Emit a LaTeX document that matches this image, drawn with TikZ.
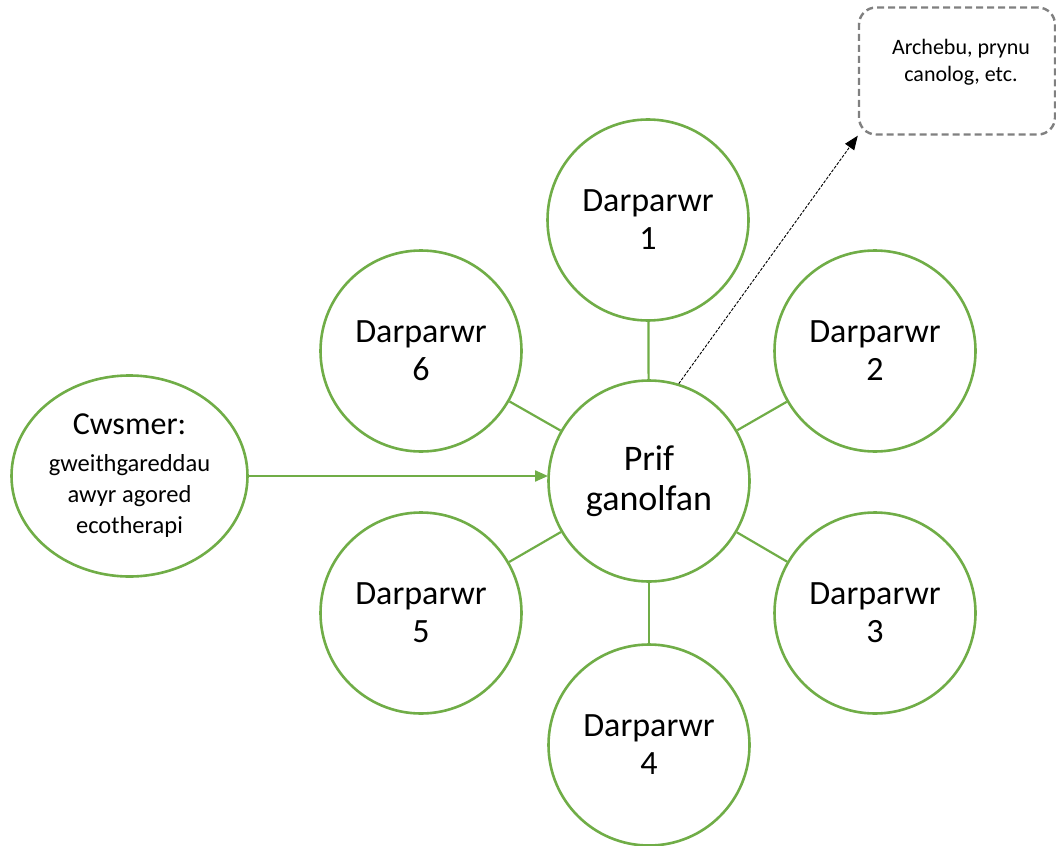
\documentclass[tikz,border=0pt]{standalone}
\usepackage{fontspec}
\setmainfont{Carlito}
\usetikzlibrary{shapes.geometric,arrows.meta}
\definecolor{grn}{RGB}{112,173,71}
\definecolor{gry}{RGB}{128,128,128}
\tikzset{
  prov/.style={circle, draw=grn, line width=2.6pt, fill=white, inner sep=0pt,
    minimum size=201pt, align=center, font=\fontsize{34}{38}\selectfont},
  spoke/.style={draw=grn, line width=2.2pt},
  feed/.style={draw=grn, line width=2.2pt, -{Triangle[length=13pt,width=11pt]}},
  note/.style={draw=gry, line width=2.4pt, dash pattern=on 7pt off 4pt,
    rounded corners=17pt, minimum width=196pt, minimum height=127pt},
  notetext/.style={align=center, inner sep=0pt, font=\fontsize{22}{27}\selectfont},
  link/.style={draw=black, line width=0.9pt, dash pattern=on 3pt off 1.5pt,
    -{Triangle[length=14pt,width=11pt]}}
}
\begin{document}
\begin{tikzpicture}[x=1pt,y=-1pt]
\useasboundingbox (0,0) rectangle (1056,845);
\node[prov, font=\fontsize{36}{40}\selectfont] (hub) at (649,481) {Prif\\ganolfan};
\node[prov] (d1) at (648,220) {Darparwr\\1};
\node[prov] (d2) at (875,351) {Darparwr\\2};
\node[prov] (d3) at (875,613) {Darparwr\\3};
\node[prov] (d4) at (649,745) {Darparwr\\4};
\node[prov] (d5) at (421,613) {Darparwr\\5};
\node[prov] (d6) at (421,351) {Darparwr\\6};
\foreach \d in {d1,d2,d3,d4,d5,d6} \draw[spoke] (hub) -- (\d);
\node[ellipse, draw=grn, line width=2.6pt, inner sep=0pt, minimum width=236pt,
  minimum height=201pt, align=center, font=\fontsize{24.5}{31}\selectfont]
  (cust) at (129.5,476)
  {{\fontsize{32}{38}\selectfont Cwsmer:}\\[6pt]
   gweithgareddau\\
   awyr agored\\
   ecotherapi};
\coordinate (hubin) at (548,476);
\draw[feed] (cust.east |- hubin) -- (hubin);
\node[note] (box) at (957,71) {};
\node[notetext] (boxtext) at (961,62) {Archebu, prynu\\canolog, etc.};
\draw[link] (hub.73) -- (box.south west);
\end{tikzpicture}
\end{document}
